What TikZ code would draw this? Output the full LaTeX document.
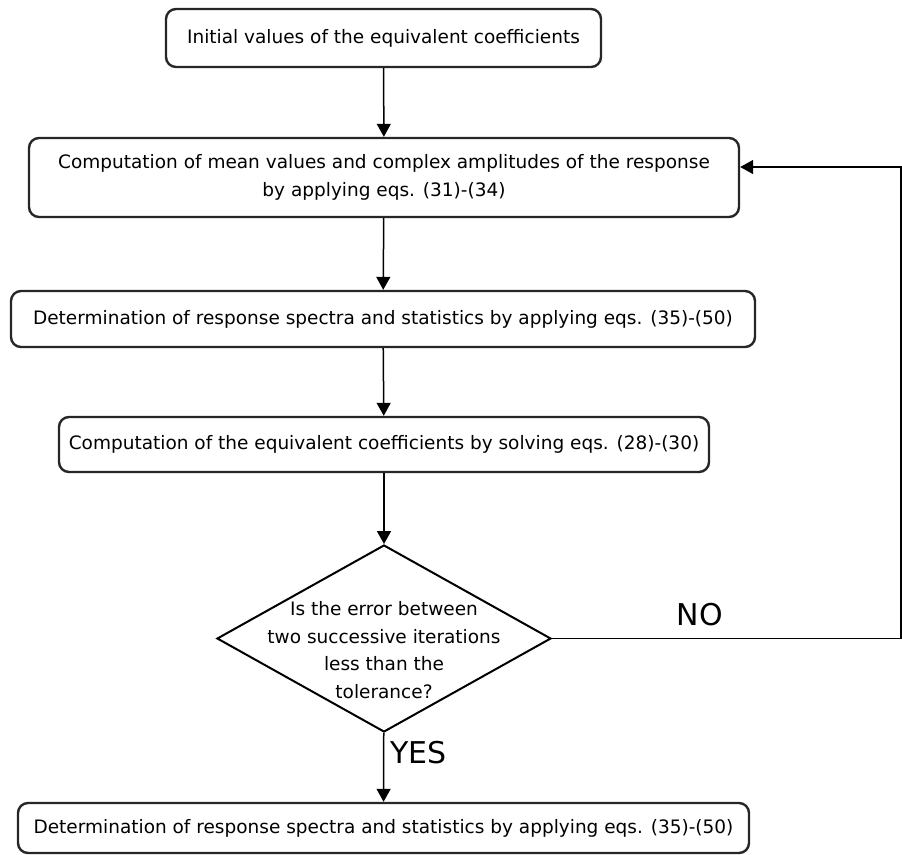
\documentclass[tikz,border=0pt]{standalone}
\usepackage{fontspec}
\setmainfont{DejaVu Sans}
\usetikzlibrary{arrows.meta,shapes.geometric}

\tikzset{
  box/.style={draw=black!85, line width=2.4pt, rounded corners=10pt, align=center, inner sep=0pt,
    font=\fontsize{18.5}{27.5}\selectfont},
  flow/.style={line width=1.5pt, -{Triangle[length=13pt,width=14pt]}},
  yesno/.style={font=\fontsize{30}{30}\selectfont, inner sep=0pt}
}

\begin{document}
\begin{tikzpicture}[x=1pt,y=1pt]
 \useasboundingbox (0,0) rectangle (902,-854); % 図全体の大きさ

 \node (init) at (383.5,-38) [box, minimum width=435pt, minimum height=58pt]
   {Initial values of the equivalent coefficients}; % 初期値
 \node (mean) at (384,-177.5) [box, minimum width=710pt, minimum height=79pt]
   {Computation of mean values and complex amplitudes of the response\\by applying eqs. (31)-(34)}; % 平均値と複素振幅
 \node (spec) at (383,-319) [box, minimum width=744pt, minimum height=56pt]
   {Determination of response spectra and statistics by applying eqs. (35)-(50)}; % スペクトルと統計量
 \node (coef) at (384,-444.5) [box, minimum width=650pt, minimum height=55pt]
   {Computation of the equivalent coefficients by solving eqs. (28)-(30)}; % 等価係数

 \node (dec) at (384,-638.5) [diamond, draw, line width=2pt, minimum width=334pt, minimum height=187pt, inner sep=0pt] {}; % 判定のひし形
 \node (dectext) at (384,-650) [align=center, inner sep=0pt, font=\fontsize{18.5}{27.5}\selectfont]
   {Is the error between\\two successive iterations\\less than the\\tolerance?}; % 判定文

 \node (final) at (383.5,-828) [box, minimum width=731pt, minimum height=50pt]
   {Determination of response spectra and statistics by applying eqs. (35)-(50)}; % 最終結果

 \coordinate (ret) at (901,-167); % 戻りの角

 \draw [flow] (init) -- (mean);
 \draw [flow] (mean) -- (spec);
 \draw [flow] (spec) -- (coef);
 \draw [flow] (coef) -- (dec);
 \draw [flow] (dec) -- (final);
 \draw [flow] (dec.east) -| (ret) -- (mean.east |- ret);

 \node (no) at (700,-615) [yesno] {NO}; % NOのラベル
 \node (yes) at (390,-753) [yesno, anchor=west] {YES}; % YESのラベル
\end{tikzpicture}
\end{document}
